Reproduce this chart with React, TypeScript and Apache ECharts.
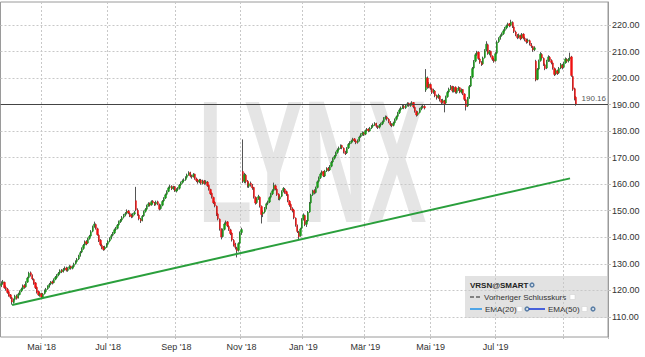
import React, { useEffect, useRef } from 'react';
import * as echarts from 'echarts';

// [open, close, low, high] per trading day, starting 2018-03-23
const candles2018a: number[][] = [
  [121.8,122.5,121.2,123.4],[122.7,123.2,122.1,123.9],[123.0,121.0,120.6,123.3],[121.2,120.6,119.9,121.8],[120.4,119.2,118.7,120.9],
  [119.5,118.0,117.6,119.8],[118.3,117.4,116.8,118.6],[117.2,115.6,114.6,117.5],[115.4,116.4,115.0,116.9],[116.6,117.8,116.2,118.3],
  [117.9,117.0,116.5,118.4],[117.2,118.6,116.9,119.1],[118.4,119.6,118.1,120.0],[119.8,120.4,119.3,121.0],[120.5,121.6,120.1,122.2],
  [121.8,121.2,120.6,122.3],[121.3,122.9,121.0,123.4],[123.1,124.6,122.8,125.1],[124.8,126.4,124.5,127.0],[126.6,125.8,125.2,127.1],
  [125.6,124.3,123.8,126.0],[124.1,122.6,122.1,124.5],[122.8,121.0,120.5,123.1],[121.2,119.4,118.8,121.5],[119.6,118.3,117.9,119.9],
  [118.1,118.9,117.6,119.4],[118.7,117.5,116.9,119.1],[117.4,118.6,117.1,119.0],[118.8,119.7,118.4,120.3],[119.5,120.4,119.2,120.9],
  [120.6,121.5,120.2,121.9],[121.4,122.2,121.0,122.8],[122.4,123.1,121.9,123.5],[123.2,122.8,122.2,123.7],[122.9,124.0,122.6,124.5],
  [124.2,124.9,123.8,125.4],[124.8,125.6,124.4,126.1],[125.8,126.3,125.3,126.9],[126.5,127.4,126.1,127.9],[127.6,127.0,126.5,128.0],
  [127.1,127.8,126.7,128.4],[127.9,128.3,127.4,129.0],[128.4,127.6,127.1,128.9],[127.5,128.2,127.0,128.7],[128.4,128.9,127.9,129.5],
  [129.1,128.4,127.8,129.3],[128.3,128.8,127.9,129.4],[129.0,129.9,128.6,130.4],[130.1,130.8,129.7,131.3],[130.9,131.6,130.5,132.2],
  [131.8,132.9,131.4,133.4],[133.1,134.2,132.7,134.8],[134.4,135.6,134.0,136.2],[135.8,136.9,135.3,137.5],[137.1,138.2,136.8,138.8],
  [138.4,137.6,137.0,138.9],[137.8,139.4,137.5,139.9],[139.6,140.3,139.1,140.9],[140.5,142.1,140.2,142.7],[142.3,143.8,141.9,144.4],
  [144.0,145.0,143.6,145.9],[144.8,143.4,142.9,145.2],[143.2,141.0,140.6,143.6],[140.8,138.8,138.2,141.2],[138.9,137.2,136.6,139.3],
  [137.0,136.1,135.5,137.6],[136.3,135.4,134.9,136.7],[135.6,136.3,135.1,136.8],[136.5,137.2,136.0,137.8],
];
const candles2018b: number[][] = [
  [137.4,138.4,137.0,138.9],[138.6,139.5,138.1,140.0],[139.7,140.6,139.2,141.2],[140.8,141.4,140.3,142.0],[141.6,142.8,141.2,143.3],
  [142.9,143.2,142.4,143.9],[143.4,144.5,143.0,145.0],[144.7,145.8,144.3,146.3],[145.9,146.3,145.4,146.9],[146.5,147.4,146.0,148.0],
  [147.6,148.2,147.1,148.8],[148.4,148.9,147.9,149.5],[149.1,149.8,148.6,150.5],[149.9,149.2,148.7,150.3],[149.0,148.1,147.6,149.4],
  [148.3,147.8,147.2,148.9],[147.9,148.6,147.4,149.1],[148.8,149.3,148.3,149.9],[153.8,150.4,149.8,159.0],[150.2,148.6,148.1,150.9],
  [148.4,147.0,146.4,148.8],[146.8,146.2,145.4,147.3],[146.4,147.9,146.0,148.4],[148.1,149.6,147.7,150.1],[149.8,150.4,149.3,151.0],
  [150.6,151.8,150.2,152.3],[152.0,152.6,151.5,153.2],[152.8,152.1,151.6,153.1],[152.2,153.4,151.9,153.9],[153.6,153.0,152.5,154.0],
  [152.9,152.4,151.8,153.3],[152.5,153.2,152.0,153.8],[153.4,152.6,152.1,153.8],[152.4,150.6,150.1,152.7],[150.8,151.9,150.4,152.4],
  [152.1,153.5,151.7,154.0],[153.7,154.6,153.3,155.1],[154.8,156.0,154.4,156.5],[156.2,157.1,155.8,157.7],[157.3,158.6,157.0,159.1],
  [158.8,159.1,158.2,159.8],[159.2,158.4,157.8,159.6],[158.3,158.9,157.9,159.4],[159.0,157.6,157.1,159.3],[157.4,157.9,156.9,158.5],
  [158.1,158.3,157.5,158.9],[158.5,159.6,158.0,160.1],[159.8,160.5,159.3,161.0],[160.7,161.2,160.2,161.8],[161.4,161.6,160.8,162.2],
  [161.8,162.4,161.3,163.0],[162.6,163.5,162.2,164.0],[163.7,164.2,163.2,164.9],[164.4,163.1,162.6,164.7],[163.0,162.8,162.1,163.6],
  [162.9,163.6,162.5,164.2],[163.8,162.2,161.7,164.0],[162.0,161.4,160.8,162.5],[161.6,160.8,160.2,161.9],[160.9,161.5,160.4,162.0],
  [161.6,160.4,159.8,162.0],[160.3,161.1,159.9,161.7],[161.3,160.3,159.8,161.6],[160.5,160.9,159.9,161.5],[160.8,159.5,159.0,161.2],
  [159.6,158.1,157.6,159.9],[158.0,156.4,155.9,158.3],[156.6,155.2,154.6,156.9],[155.0,153.0,152.5,155.3],[153.2,151.9,151.3,153.6],
  [151.7,148.6,148.0,152.0],[148.8,147.0,146.4,149.2],[146.8,143.2,142.5,147.1],[143.0,140.1,139.2,143.4],[140.3,142.8,139.9,143.3],
  [143.0,145.0,142.6,145.6],[145.2,145.6,144.6,146.3],[145.8,144.3,143.8,146.1],[144.1,143.0,142.4,144.6],[142.8,141.4,140.8,143.2],
  [141.6,139.0,138.4,141.9],[138.8,137.1,136.5,139.3],[137.3,136.2,135.4,137.9],[136.0,134.9,132.4,136.4],[135.1,137.6,134.6,138.1],
  [137.8,141.6,137.4,142.2],[141.8,142.9,140.9,143.6],[164.8,161.2,160.5,176.9],[161.0,163.6,160.4,164.3],[163.4,161.0,160.3,163.9],
  [161.2,159.4,158.7,161.6],[159.2,160.2,158.6,160.8],[160.4,159.8,159.1,161.0],[159.6,158.6,157.9,160.1],[158.8,155.2,154.6,159.0],
  [155.0,152.9,152.3,155.4],[153.1,154.5,152.6,155.0],[154.7,155.3,154.1,156.0],[155.1,151.8,151.2,155.4],[151.6,148.6,145.2,152.0],
  [148.8,149.4,147.6,150.1],[149.6,150.8,149.0,151.4],[151.0,152.6,150.5,153.1],[152.8,153.1,152.1,153.8],[153.3,154.9,152.9,155.4],
  [155.1,156.2,154.6,156.8],[156.4,157.5,155.9,158.1],[157.7,159.6,157.3,160.6],[159.4,158.3,157.7,159.9],[158.1,156.1,155.6,158.5],
  [156.3,154.6,154.0,156.6],[154.4,155.3,153.9,155.9],[155.5,157.2,155.1,157.7],[157.4,158.4,156.9,158.9],[158.2,157.0,156.4,158.6],
  [157.2,156.3,155.6,157.6],[156.1,153.8,153.2,156.4],[153.6,152.2,151.5,154.0],[152.4,150.9,150.3,152.8],[150.7,150.1,149.4,151.3],
  [150.3,147.4,146.8,150.6],[147.2,144.6,144.0,147.5],[144.4,142.2,141.6,144.8],[142.0,140.2,138.9,142.4],[140.6,143.1,140.2,143.6],
  [143.4,146.6,143.0,147.2],
];
const candles2019a: number[][] = [
  [146.8,148.4,146.3,149.0],[148.2,144.8,144.2,148.5],[144.9,145.9,143.9,146.5],[146.1,149.4,145.7,149.9],[149.6,152.8,149.2,153.3],
  [153.0,155.9,152.6,156.4],[156.1,157.4,155.6,157.9],[157.6,156.8,156.2,158.1],[156.9,158.6,156.5,159.1],[158.8,160.9,158.4,161.4],
  [161.1,162.3,160.6,162.9],[162.5,163.8,162.0,164.4],[164.0,164.6,163.4,165.2],[164.8,163.2,162.7,165.0],[163.1,164.9,162.7,165.4],
  [165.1,165.8,164.6,166.4],[166.0,165.3,164.8,166.5],[165.4,166.6,165.0,167.2],[166.8,168.2,166.4,168.8],[168.4,169.6,168.0,170.1],
  [169.8,170.4,169.3,171.0],[170.6,171.8,170.1,172.3],[172.0,172.9,171.5,173.5],[173.1,173.6,172.6,174.2],[173.8,174.4,173.3,175.0],
  [174.6,173.8,173.2,174.9],[173.6,172.2,171.6,173.9],[172.0,171.6,171.0,172.6],[171.8,173.5,171.4,174.0],[173.7,175.0,173.3,175.5],
  [175.2,175.6,174.7,176.2],[175.8,176.2,175.3,176.8],[176.4,176.9,175.9,177.5],[177.1,176.4,175.9,177.4],[176.3,175.7,175.1,176.7],
  [175.8,176.3,175.3,176.9],[176.5,177.8,176.1,178.3],[178.0,178.6,177.5,179.2],[178.8,179.3,178.3,179.9],[179.4,178.8,178.2,179.8],
  [178.9,180.1,178.5,180.6],[180.3,180.6,179.8,181.2],[180.8,180.2,179.6,181.1],[180.1,181.1,179.8,181.6],[181.3,181.7,180.8,182.3],
  [181.9,182.3,181.4,182.9],[182.5,182.8,182.0,183.4],[182.9,181.9,181.3,183.2],[181.7,181.4,180.8,182.2],[181.5,182.1,181.0,182.7],
  [182.3,182.6,181.8,183.2],[182.8,183.4,182.3,184.0],[183.6,184.8,183.2,185.3],[185.0,185.2,184.4,185.9],[185.3,184.6,184.0,185.8],
  [184.5,183.6,183.0,184.9],[183.4,182.5,181.9,183.8],[182.6,182.1,181.5,183.0],[182.2,183.0,181.8,183.6],[183.2,184.3,182.8,184.8],
  [184.5,185.4,184.0,185.9],[185.6,186.8,185.2,187.3],[187.0,188.0,186.5,188.6],[188.2,188.7,187.7,189.3],[188.9,189.3,188.4,189.9],
  [189.4,188.9,188.3,189.9],[188.8,189.6,188.4,190.2],[189.8,190.3,189.3,190.9],[190.5,189.8,189.2,190.8],[189.7,190.1,189.2,190.7],
  [190.3,190.6,189.8,191.3],[190.8,189.2,188.6,191.0],[189.0,187.6,187.0,189.3],[187.4,186.1,185.5,187.8],[186.3,186.9,185.8,187.5],
  [187.1,188.2,186.7,188.8],[188.4,189.0,187.9,189.6],[189.2,189.4,188.5,190.0],[189.3,188.8,188.2,189.8],[195.5,200.2,194.8,203.4],
  [200.0,196.6,196.0,200.6],[196.8,197.8,196.2,198.5],[197.6,196.2,195.6,198.0],[196.0,194.6,194.0,196.4],[194.8,195.3,194.1,196.0],
  [195.1,193.4,192.8,195.5],[193.2,192.6,191.9,193.8],[192.8,193.5,192.2,194.1],[193.3,191.8,191.2,193.6],[191.6,190.9,190.2,192.1],
  [191.1,191.6,190.4,192.2],[191.4,190.4,187.1,191.8],[190.6,192.8,190.2,193.4],[193.0,194.6,192.6,195.2],[194.8,195.8,194.3,196.4],
  [196.0,196.7,195.5,197.4],[196.9,195.2,194.6,197.1],[195.0,196.4,194.6,197.0],[196.6,194.8,194.2,196.9],[194.6,195.6,194.1,196.2],
  [195.8,196.2,195.2,196.9],[196.4,194.9,194.3,196.6],[194.7,195.5,194.2,196.1],[195.7,194.2,193.6,195.9],[194.0,192.0,191.4,194.3],
  [191.8,189.3,187.8,192.1],[189.5,192.4,189.1,192.9],[192.6,196.8,192.2,197.4],[197.0,200.2,196.6,200.8],[200.4,203.6,200.0,204.2],
  [203.8,206.2,203.4,206.8],[206.4,208.8,206.0,209.4],[209.0,209.6,208.4,210.3],[209.8,207.4,206.9,210.1],[207.2,206.0,205.4,207.6],
  [205.8,205.2,204.6,206.4],[205.4,207.6,205.0,208.1],[207.8,210.3,207.4,210.9],[210.5,212.8,210.1,213.9],[212.6,209.4,208.8,213.0],
  [209.2,209.9,208.6,210.6],[210.1,208.4,207.8,210.4],[208.2,207.1,206.5,208.6],[207.0,206.4,205.8,207.6],
];
const candles2019b: number[][] = [
  [206.6,209.2,206.2,209.8],[209.4,213.6,209.0,214.2],[213.8,214.8,213.3,215.4],[215.0,215.9,214.5,216.5],[216.1,216.6,215.6,217.2],
  [216.8,217.8,216.3,218.4],[218.0,218.7,217.5,219.3],[218.9,219.6,218.4,220.2],[219.8,220.3,219.2,220.9],[220.5,219.8,219.2,220.8],
  [219.9,221.2,219.5,222.0],[221.0,219.5,218.9,221.4],[219.3,217.6,217.0,219.6],[217.4,216.4,215.8,217.9],[216.2,215.3,214.7,216.6],
  [215.5,216.2,215.0,216.8],[216.0,214.9,214.3,216.4],[215.1,216.4,214.7,217.0],[216.6,215.2,214.6,216.9],[215.0,214.6,213.9,215.6],
  [214.4,213.7,213.0,214.9],[213.9,214.3,213.2,214.9],[214.1,212.9,212.3,214.5],[212.7,212.1,211.4,213.2],[211.9,210.6,209.9,212.2],
  [210.8,211.4,210.2,212.0],[206.4,199.3,198.8,206.9],[199.6,203.2,199.2,203.8],[203.4,206.4,203.0,207.0],[206.6,209.1,206.2,209.8],
  [208.9,207.6,207.0,209.4],[207.4,205.2,204.6,207.8],[205.0,203.6,203.0,205.5],[203.8,206.3,203.4,206.9],[206.5,208.0,206.1,208.6],
  [207.8,206.8,206.2,208.3],[206.6,205.9,205.2,207.1],[205.7,203.8,203.2,206.0],[203.6,201.4,200.8,204.0],[201.6,202.9,201.1,203.5],
  [202.7,201.8,201.2,203.2],[202.0,203.6,201.6,204.2],[203.8,205.1,203.4,205.7],[204.9,203.9,203.3,205.4],[204.1,205.6,203.7,206.2],
  [205.8,207.2,205.4,207.8],[207.0,206.4,205.8,207.5],[206.6,207.0,205.9,207.6],[207.2,207.8,206.6,209.6],[208.0,201.0,200.5,208.4],
  [200.6,195.8,195.2,201.0],[196.0,192.3,191.6,196.4],[192.8,190.16,189.6,193.2],
];

const startDate = '2018-03-23';
const categoryCount = 392;
const holidays = [
  '2018-03-30', '2018-05-28', '2018-07-04', '2018-09-03', '2018-11-22', '2018-12-05', '2018-12-25',
  '2019-01-01', '2019-01-21', '2019-02-18', '2019-04-19', '2019-05-27', '2019-07-04', '2019-09-02',
];
const monthNames = ['Jan', 'Feb', 'Mär', 'Apr', 'Mai', 'Jun', 'Jul', 'Aug', 'Sep', 'Okt', 'Nov', 'Dez'];
const tickLabels = ["Mai '18", "Jul '18", "Sep '18", "Nov '18", "Jan '19", "Mär '19", "Mai '19", "Jul '19"];
const yTicks = [110, 120, 130, 140, 150, 160, 170, 180, 190, 200, 210, 220];
const yMin = 102.4;
const yMax = 228.7;
const lastClose = 190.16;
const trendDates = ['2018-04-04', '2019-09-09'];
const trendValues = [114.5, 162.2];

const FONT = 'Liberation Sans, Arial, sans-serif';

function buildDates(): string[] {
  const out: string[] = [];
  const d = new Date(startDate + 'T00:00:00Z');
  while (out.length < categoryCount) {
    const s = d.toISOString().slice(0, 10);
    const wd = d.getUTCDay();
    if (wd !== 0 && wd !== 6 && !holidays.includes(s)) out.push(s);
    d.setUTCDate(d.getUTCDate() + 1);
  }
  return out;
}

function fmtMonth(s: string): string {
  const m = parseInt(s.slice(5, 7), 10) - 1;
  return `${monthNames[m]} '${s.slice(2, 4)}`;
}

export default function App() {
  const ref = useRef<HTMLDivElement>(null);
  useEffect(() => {
    if (!ref.current) return;
    const chart = echarts.init(ref.current, undefined, { renderer: 'svg' });
    const dates = buildDates();
    const candles = [...candles2018a, ...candles2018b, ...candles2019a, ...candles2019b];
    const wickData = candles.map((c) => [c[0], c[1], c[2], c[3]]);
    const bodyData = candles.map((c) => [c[0], c[1], Math.min(c[0], c[1]), Math.max(c[0], c[1])]);
    const month = (i: number) => parseInt(dates[i].slice(5, 7), 10);
    const isGrid = (i: number) => i > 0 && month(i) !== month(i - 1) && month(i) % 2 === 1;
    const isLabel = (i: number) => isGrid(i) && tickLabels.includes(fmtMonth(dates[i]));

    const iconColor = '#5b7fa6';
    const legendText = { fontSize: 8, fontFamily: FONT, fill: '#333', verticalAlign: 'middle' as const };

    chart.setOption({
      animation: false,
      backgroundColor: '#ffffff',
      textStyle: { fontFamily: FONT },
      grid: {
        left: 0.5, right: 37, top: 2, bottom: 20,
        show: true, borderColor: '#9a9a9a', borderWidth: 1, backgroundColor: 'transparent',
        containLabel: false,
      },
      xAxis: {
        type: 'category',
        data: dates,
        boundaryGap: true,
        axisLine: { show: false },
        axisTick: { show: true, interval: (i: number) => isGrid(i), length: 3, lineStyle: { color: '#bdbdbd', type: [2, 2] } },
        axisLabel: {
          interval: (i: number) => isLabel(i),
          formatter: (v: string) => fmtMonth(v),
          color: '#333', fontSize: 9, margin: 5, fontFamily: FONT,
        },
        splitLine: { show: true, interval: (i: number) => isGrid(i), lineStyle: { color: '#c8c8c8', type: [2, 2], width: 1 } },
      },
      yAxis: {
        type: 'value',
        position: 'right',
        min: yMin,
        max: yMax,
        axisLine: { show: true, lineStyle: { color: '#9a9a9a' } },
        axisTick: { show: true, customValues: yTicks, length: 3, lineStyle: { color: '#bdbdbd' } },
        axisLabel: {
          customValues: yTicks,
          formatter: (v: number) => v.toFixed(2),
          color: '#333', fontSize: 9, margin: 4, fontFamily: FONT,
        },
        splitLine: { show: true, lineStyle: { color: '#c8c8c8', type: [2, 2], width: 1 } },
      },
      graphic: [
        {
          type: 'text', x: 198, y: 162, scaleX: 0.51, z: -1, silent: true,
          style: { text: 'LYNX', fontSize: 174, fontWeight: 'bold', fontFamily: FONT, fill: '#e5e5e5', align: 'left', verticalAlign: 'middle' },
        },
        {
          type: 'group', z: 20,
          children: [
            { type: 'rect', shape: { x: 465, y: 276, width: 142, height: 42 }, style: { fill: '#e2e2e2' } },
            { type: 'text', x: 470, y: 285, style: { ...legendText, text: 'VRSN@SMART', fontWeight: 'bold', fill: '#222' } },
            { type: 'circle', shape: { cx: 532, cy: 285, r: 2.6 }, style: { fill: iconColor } },
            { type: 'circle', shape: { cx: 532, cy: 285, r: 0.9 }, style: { fill: '#fff' } },
            { type: 'line', shape: { x1: 470, y1: 297, x2: 481, y2: 297 }, style: { stroke: '#222', lineWidth: 1, lineDash: [4, 2] } },
            { type: 'text', x: 484, y: 297, style: { ...legendText, text: 'Vorheriger Schlusskurs' } },
            { type: 'rect', shape: { x: 570, y: 294.5, width: 5, height: 5 }, style: { fill: '#fff', stroke: '#cfcfcf', lineWidth: 0.5 } },
            { type: 'line', shape: { x1: 470, y1: 309, x2: 482, y2: 309 }, style: { stroke: '#1e90e8', lineWidth: 1.5 } },
            { type: 'text', x: 485, y: 309, style: { ...legendText, text: 'EMA(20)' } },
            { type: 'rect', shape: { x: 517, y: 306.5, width: 5, height: 5 }, style: { fill: '#fff', stroke: '#cfcfcf', lineWidth: 0.5 } },
            { type: 'circle', shape: { cx: 527, cy: 309, r: 2.6 }, style: { fill: iconColor } },
            { type: 'circle', shape: { cx: 527, cy: 309, r: 0.9 }, style: { fill: '#fff' } },
            { type: 'line', shape: { x1: 529, y1: 309, x2: 545, y2: 309 }, style: { stroke: '#1436d8', lineWidth: 1.5 } },
            { type: 'text', x: 548, y: 309, style: { ...legendText, text: 'EMA(50)' } },
            { type: 'rect', shape: { x: 582, y: 306.5, width: 5, height: 5 }, style: { fill: '#fff', stroke: '#cfcfcf', lineWidth: 0.5 } },
            { type: 'circle', shape: { cx: 593, cy: 309, r: 2.6 }, style: { fill: iconColor } },
            { type: 'circle', shape: { cx: 593, cy: 309, r: 0.9 }, style: { fill: '#fff' } },
          ],
        },
      ],
      series: [
        {
          name: 'wick',
          type: 'candlestick',
          data: wickData,
          barWidth: 0.3,
          z: 2,
          itemStyle: { color: '#555', color0: '#555', borderColor: '#555', borderColor0: '#555', borderWidth: 1 },
        },
        {
          name: 'VRSN@SMART',
          type: 'candlestick',
          data: bodyData,
          barWidth: 1.8,
          z: 3,
          itemStyle: { color: '#1a9a1a', color0: '#f01010', borderColor: '#1a9a1a', borderColor0: '#f01010', borderWidth: 0.4 },
          markLine: {
            silent: true,
            symbol: ['none', 'none'],
            animation: false,
            data: [{ yAxis: lastClose }],
            lineStyle: { color: '#444', type: 'solid', width: 1 },
            label: {
              show: true, position: 'insideEndTop', formatter: () => lastClose.toFixed(2),
              fontSize: 8, color: '#555', fontFamily: FONT, distance: [2, 2],
            },
          },
        },
        {
          name: 'Trend',
          type: 'line',
          data: [[trendDates[0], trendValues[0]], [trendDates[1], trendValues[1]]],
          showSymbol: false,
          symbol: 'none',
          z: 4,
          lineStyle: { color: '#2a9f3c', width: 2 },
        },
      ],
    });
    return () => chart.dispose();
  }, []);
  return <div ref={ref} style={{ position: 'fixed', left: 0, top: 0, width: 645, height: 357 }} />;
}
